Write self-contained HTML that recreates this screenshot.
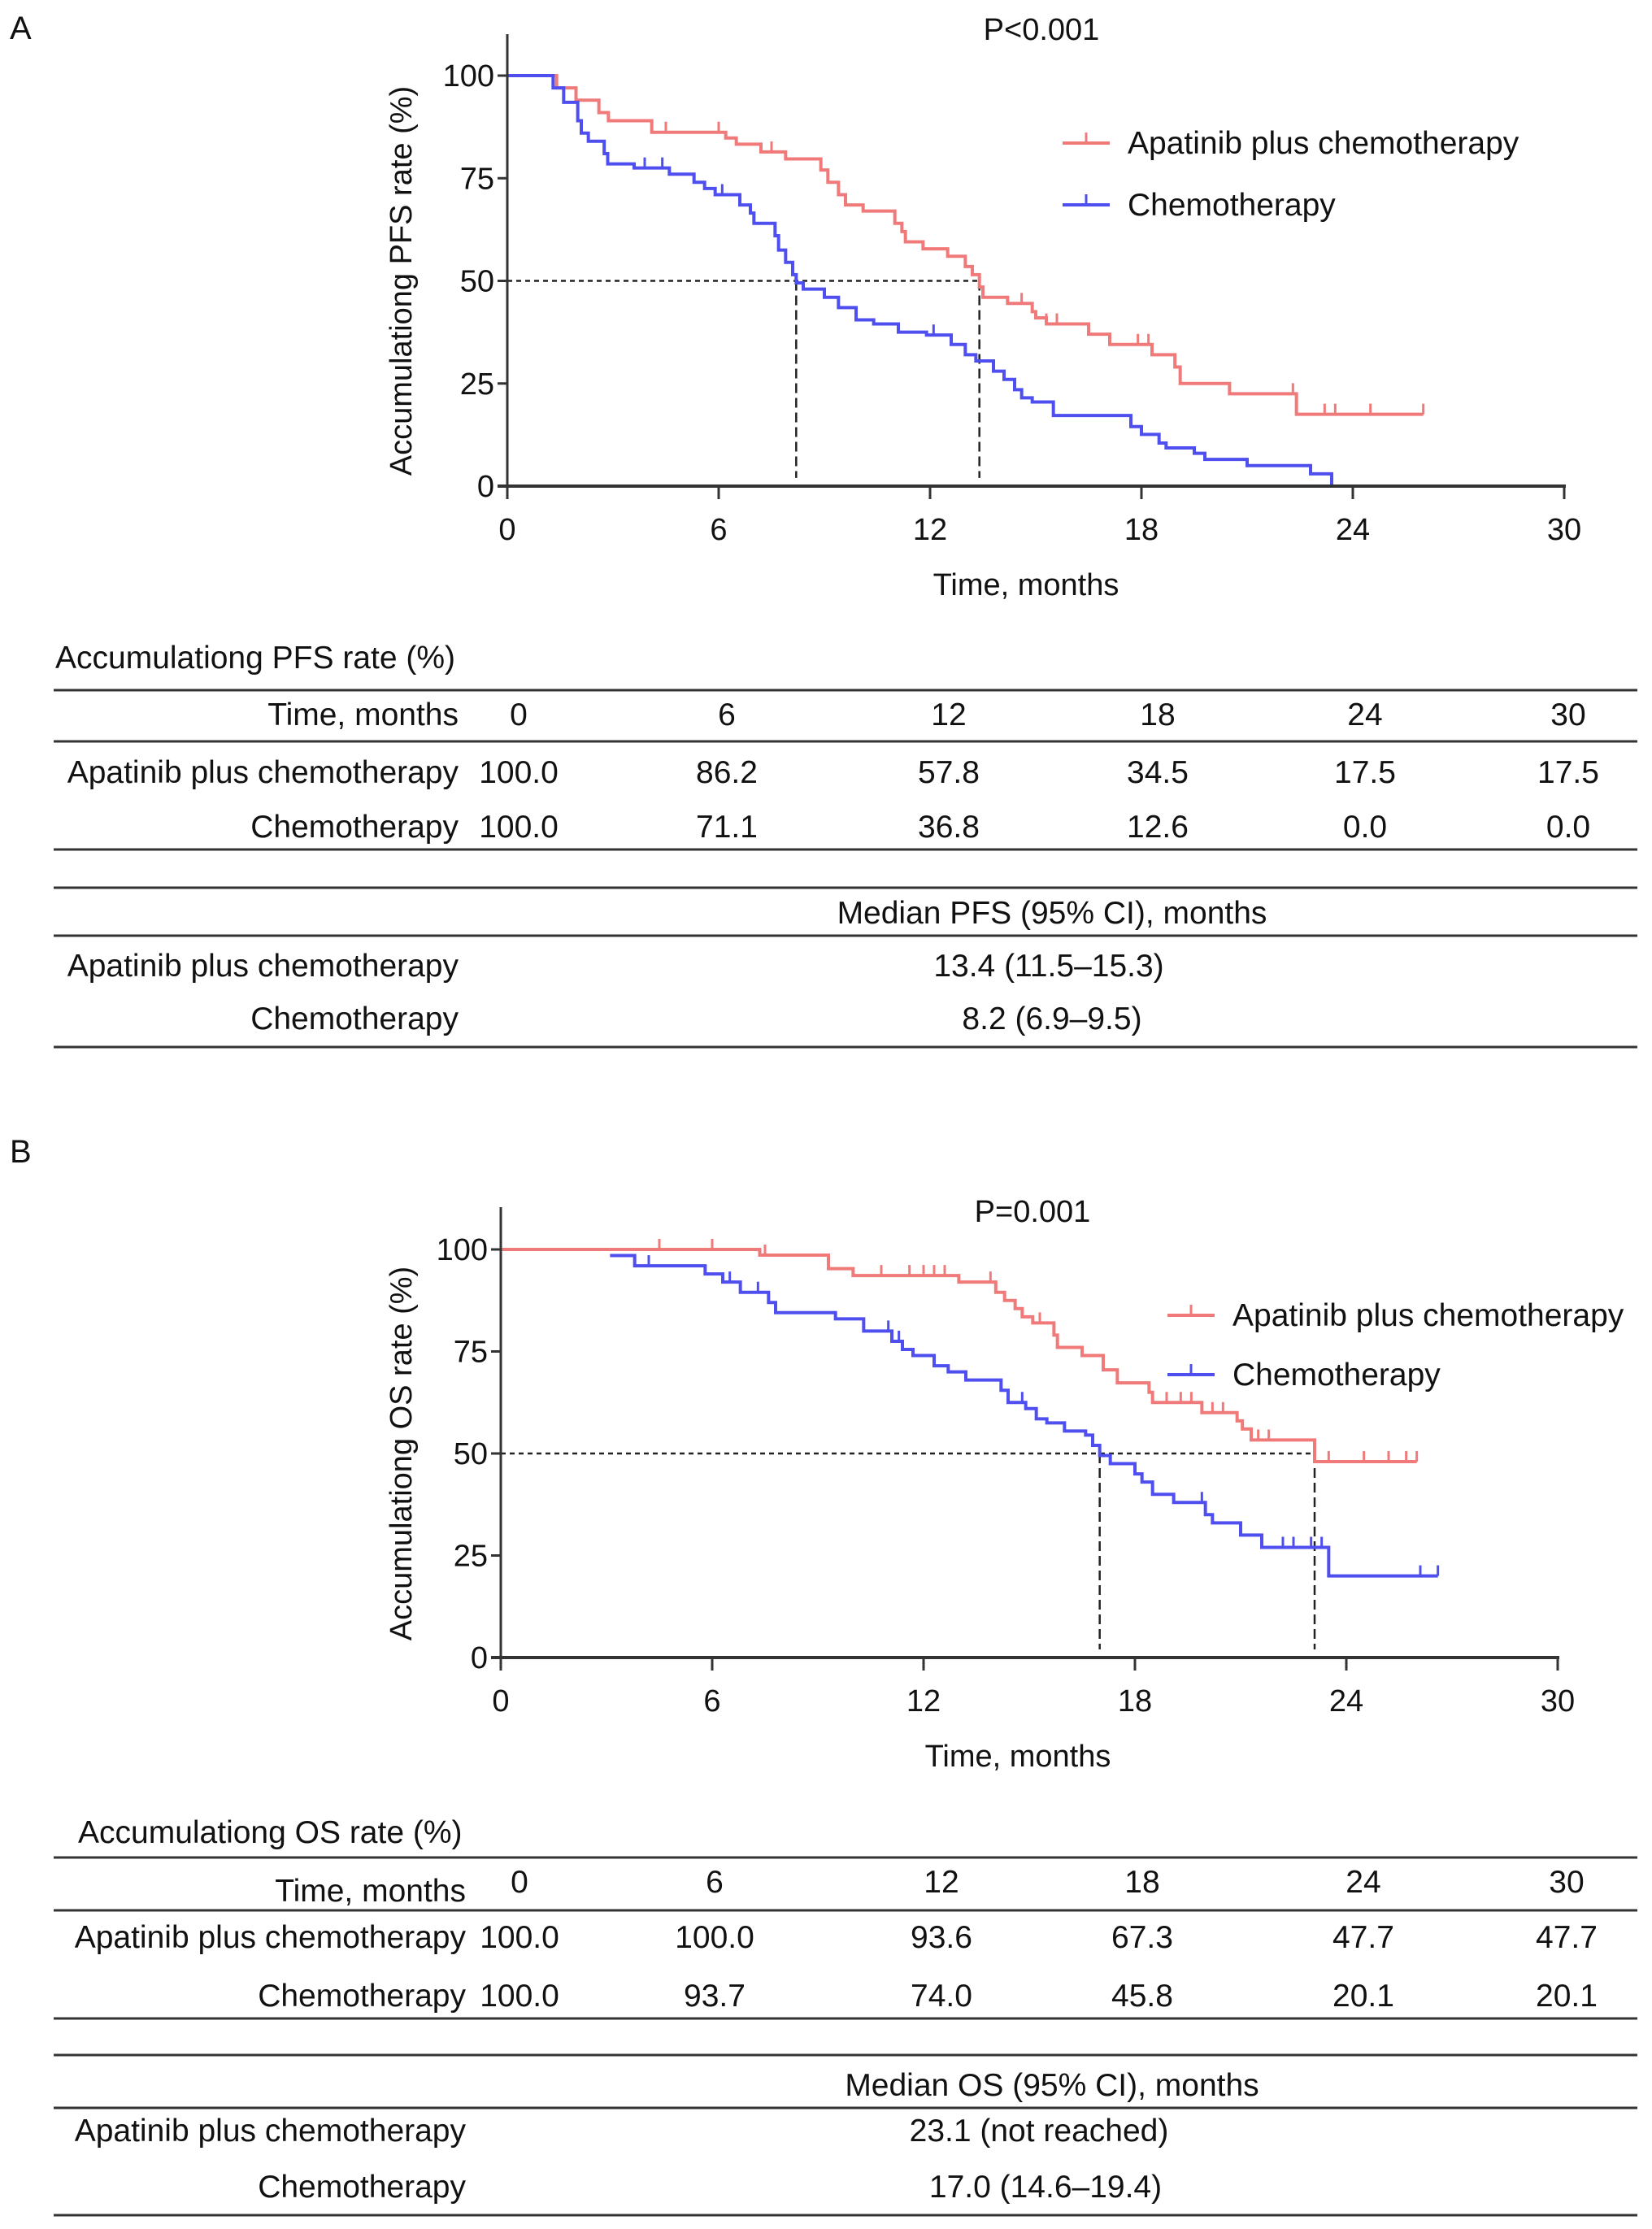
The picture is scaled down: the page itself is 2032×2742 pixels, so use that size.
<!DOCTYPE html>
<html><head><meta charset="utf-8"><style>
html,body{margin:0;padding:0;background:#fff;}
svg{display:block;}
text{font-family:"Liberation Sans",Arial,sans-serif;fill:#111;}
</style></head>
<body>
<svg id="fig" width="2032" height="2742" viewBox="0 0 2032 2742" xmlns="http://www.w3.org/2000/svg">
<text x="12" y="48" font-size="40">A</text>
<text x="12" y="1430" font-size="40">B</text>
<g id="chartA"></g>
<g id="chartB"></g>
<g id="tables"></g>
</svg>
<script>
// ---- PFS data ----
const pfsRedT = [0,1.4,1.95,2.6,2.87,4.1,6.2,6.5,7.2,7.9,8.9,9.1,9.4,9.6,10.1,11.0,11.2,11.3,11.8,12.5,13.0,13.2,13.4,13.5,14.2,14.9,15.0,15.3,16.5,17.1,18.3,18.95,19.1,20.5,22.4];
const pfsRedS = [100,97,94,91,89,86.2,84.8,83.3,81.4,79.7,77,74,71,68.5,67,64,62,59.5,57.8,56,53.5,51.5,48.5,46,44.5,42.5,41,39.5,37,34.5,32,29,25,22.5,17.5];
const pfsRedEnd = 26.0;
const pfsRedCens = [4.5,6.0,7.5,11.0,14.6,15.3,15.6,17.9,18.2,22.3,23.2,23.5,24.5,26.0];
const pfsBlueT = [0,1.3,1.6,2.0,2.1,2.3,2.75,2.85,3.6,4.6,5.3,5.6,5.9,6.6,6.9,7.0,7.6,7.7,7.9,8.1,8.2,8.4,9.0,9.4,9.9,10.4,11.1,11.9,12.6,13.0,13.3,13.8,14.1,14.4,14.6,14.9,15.5,17.7,18.0,18.5,18.7,19.5,19.8,21.0,22.8,23.4];
const pfsBlueS = [100,97,93.5,89,86,84,81,78.5,77.5,76,74,72.5,71,68.5,66.5,64,61,57.5,54.5,51.5,49.5,48,46,43.5,40.5,39.5,37.5,36.8,34.5,32,30.5,28,26,23.5,21.5,20.5,17.2,14.5,12.6,10.5,9.3,8,6.5,5,3,0];
const pfsBlueEnd = 23.4;
const pfsBlueCens = [3.9,4.4,6.1,12.1];
const pfsMedians = [8.2,13.4];
// ---- OS data ----
const osRedT = [0,7.35,9.3,10.0,13.0,14.05,14.3,14.6,14.8,15.1,15.7,15.8,16.5,17.1,17.5,18.4,18.5,19.9,20.9,21.05,21.3,23.1];
const osRedS = [100,98.6,95.3,93.6,92,89.5,87.5,85.5,83.5,82,79,76,74,70.5,67.3,65,62.5,60,58,56,53.3,48];
const osRedEnd = 26.0;
const osRedCens = [4.5,6.0,7.5,10.8,11.6,12.0,12.3,12.6,13.9,15.3,18.9,19.3,19.6,20.2,20.5,21.5,21.8,23.5,24.5,25.2,25.7,26.0];
const osBlueT = [3.1,3.8,5.8,6.3,6.8,7.6,7.8,9.5,10.3,11.1,11.4,11.7,12.3,12.7,13.2,14.2,14.4,14.9,15.2,15.5,16.0,16.6,16.8,17.0,17.3,18.0,18.2,18.5,19.1,20.0,20.2,21.0,21.6,23.5];
const osBlueS = [98.5,96,94,92,89.5,87,84.5,83,80,77.5,75.5,74,71.5,70,68,65.5,62.5,61,58.5,57.5,55.5,54.5,52,49.5,47.5,45,43,40,38,35,33,30,27,20];
const osBlueEnd = 26.6;
const osBlueCens = [4.2,6.5,7.3,11.0,11.3,14.8,19.9,22.2,22.5,23.0,23.3,26.1,26.6];
const osMedians = [17.0,23.1];
const xTicks = [0,6,12,18,24,30];
const yTicks = [0,25,50,75,100];

const NS="http://www.w3.org/2000/svg";
function mk(tag, parent, attrs){const e=document.createElementNS(NS,tag);for(const k in attrs)e.setAttribute(k,attrs[k]);parent.appendChild(e);return e;}
const RED="#f07a7a", BLUE="#4f4ff0";
const FS=38;

function chart(g, cfg){
  const X=v=>cfg.x0+(cfg.x1-cfg.x0)*v/30;
  const Y=v=>cfg.y0-(cfg.y0-cfg.y100)*v/100;
  const hd=mk('line',g,{x1:X(0),x2:X(cfg.med[1]),y1:Y(50),y2:Y(50),stroke:'#222','stroke-width':2.5,'stroke-dasharray':'6,5'});
  
  
  cfg.med.forEach(m=>{
    const l=mk('line',g,{x1:X(m),x2:X(m),y1:Y(50),y2:Y(2),stroke:'#222','stroke-width':2.5,'stroke-dasharray':'12,6'});
    
    
  });
  cfg.series.forEach(s=>{
    let d='M'+X(s.t[0])+' '+Y(s.s[0]);
    for(let i=1;i<s.t.length;i++){d+=' L'+X(s.t[i])+' '+Y(s.s[i-1])+' L'+X(s.t[i])+' '+Y(s.s[i]);}
    d+=' L'+X(s.end)+' '+Y(s.s[s.s.length-1]);
    const p=mk('path',g,{d:d,fill:'none',stroke:s.c,'stroke-width':4});
    
    
    s.cens.forEach(ct=>{
      let v=s.s[0];for(let i=0;i<s.t.length;i++){if(s.t[i]<=ct)v=s.s[i];}
      const c=mk('line',g,{x1:X(ct),x2:X(ct),y1:Y(v),y2:Y(v)-13,stroke:s.c,'stroke-width':3});
      
      
    });
  });
  const ya=mk('line',g,{x1:cfg.x0,x2:cfg.x0,y1:cfg.yTop,y2:cfg.y0+16,stroke:'#333','stroke-width':3});
  
  
  const xa=mk('line',g,{x1:cfg.x0-12,x2:cfg.x1+2,y1:cfg.y0,y2:cfg.y0,stroke:'#333','stroke-width':4});
  
  
  yTicks.forEach(v=>{
    mk('line',g,{x1:cfg.x0-12,x2:cfg.x0,y1:Y(v),y2:Y(v),stroke:'#333','stroke-width':3});
    const t=mk('text',g,{x:cfg.x0-16,y:Y(v)+13,'font-size':FS,'text-anchor':'end'});t.textContent=v;
    
    
  });
  xTicks.forEach(v=>{
    mk('line',g,{x1:X(v),x2:X(v),y1:cfg.y0,y2:cfg.y0+16,stroke:'#333','stroke-width':3});
    const t=mk('text',g,{x:X(v),y:cfg.y0+66,'font-size':FS,'text-anchor':'middle'});t.textContent=v;
    
    
  });
  const xt=mk('text',g,{x:cfg.xtX,y:cfg.y0+134,'font-size':FS,'text-anchor':'middle'});xt.textContent='Time, months';
  
  
  const yt=mk('text',g,{x:0,y:0,'font-size':FS,'text-anchor':'middle',transform:'translate(506,'+((cfg.y0+cfg.y100)/2)+') rotate(-90)'});yt.textContent=cfg.ytitle;
  
  
  const pt=mk('text',g,{x:cfg.pX,y:cfg.pY,'font-size':FS,'text-anchor':'middle'});pt.textContent=cfg.p;
  
  
  cfg.legend.forEach((L,i)=>{
    const ly=L.y;
    mk('line',g,{x1:L.x,x2:L.x+58,y1:ly,y2:ly,stroke:L.c,'stroke-width':4});
    mk('line',g,{x1:L.x+29,x2:L.x+29,y1:ly,y2:ly-13,stroke:L.c,'stroke-width':3});
    const t=mk('text',g,{x:L.x+80,y:ly+13,'font-size':39});t.textContent=L.label;
    
    
  });
}

chart(document.getElementById('chartA'),{x0:624,x1:1924,y0:598,y100:93,yTop:42,med:pfsMedians,
  ytitle:'Accumulationg PFS rate (%)',p:'P<0.001',pX:1281,pY:49,xtX:1262,
  legend:[{x:1307,y:176,c:RED,label:'Apatinib plus chemotherapy'},{x:1307,y:252,c:BLUE,label:'Chemotherapy'}],
  series:[{name:'apatinib',t:pfsRedT,s:pfsRedS,end:pfsRedEnd,cens:pfsRedCens,c:RED},
          {name:'chemotherapy',t:pfsBlueT,s:pfsBlueS,end:pfsBlueEnd,cens:pfsBlueCens,c:BLUE}]});
chart(document.getElementById('chartB'),{x0:616,x1:1916,y0:2039,y100:1537,yTop:1485,med:osMedians,
  ytitle:'Accumulationg OS rate (%)',p:'P=0.001',pX:1270,pY:1503,xtX:1252,
  legend:[{x:1436,y:1618,c:RED,label:'Apatinib plus chemotherapy'},{x:1436,y:1691,c:BLUE,label:'Chemotherapy'}],
  series:[{name:'apatinib',t:osRedT,s:osRedS,end:osRedEnd,cens:osRedCens,c:RED},
          {name:'chemotherapy',t:osBlueT,s:osBlueS,end:osBlueEnd,cens:osBlueCens,c:BLUE}]});

// ---- tables ----
const tg=document.getElementById('tables');
function txt(x,y,s,anchor,name){const t=mk('text',tg,{x:x,y:y+13,'font-size':39,'text-anchor':anchor});t.textContent=s;
  
  }
function hline(y){mk('line',tg,{x1:66,x2:2014,y1:y,y2:y,stroke:'#333','stroke-width':3});}
function table(o){
  txt(o.titleX,o.titleY,o.title,'start','table-title');
  o.lines.forEach(hline);
  txt(o.labR,o.hdrY,'Time, months','end','table-header');
  o.cols.forEach((c,i)=>{txt(c,o.hdrNumY,o.times[i],'middle','table-time');
    txt(c,o.r1Y,o.a[i],'middle','table-value');txt(c,o.r2Y,o.b[i],'middle','table-value');});
  txt(o.labR,o.r1Y,'Apatinib plus chemotherapy','end','row-label');
  txt(o.labR,o.r2Y,'Chemotherapy','end','row-label');
  txt(1294,o.mhY,o.mh,'middle','median-header');
  txt(o.labR,o.m1Y,'Apatinib plus chemotherapy','end','row-label');
  txt(o.labR,o.m2Y,'Chemotherapy','end','row-label');
  txt(o.m1X,o.m1Y,o.m1,'middle','median-value');
  txt(o.m2X,o.m2Y,o.m2,'middle','median-value');
}
table({title:'Accumulationg PFS rate (%)',titleX:68,titleY:809,lines:[849,912,1045,1092,1151,1288],
  labR:564,hdrY:879,hdrNumY:879,r1Y:950,r2Y:1017,cols:[638,894,1167,1424,1679,1929],
  times:['0','6','12','18','24','30'],a:['100.0','86.2','57.8','34.5','17.5','17.5'],b:['100.0','71.1','36.8','12.6','0.0','0.0'],
  mh:'Median PFS (95% CI), months',mhY:1123,m1Y:1188,m2Y:1253,m1:'13.4 (11.5–15.3)',m2:'8.2 (6.9–9.5)',m1X:1290,m2X:1294});
table({title:'Accumulationg OS rate (%)',titleX:96,titleY:2254,lines:[2285,2350,2483,2528,2593,2725],
  labR:573,hdrY:2326,hdrNumY:2315,r1Y:2383,r2Y:2455,cols:[639,879,1158,1405,1677,1927],
  times:['0','6','12','18','24','30'],a:['100.0','100.0','93.6','67.3','47.7','47.7'],b:['100.0','93.7','74.0','45.8','20.1','20.1'],
  mh:'Median OS (95% CI), months',mhY:2565,m1Y:2621,m2Y:2690,m1:'23.1 (not reached)',m2:'17.0 (14.6–19.4)',m1X:1278,m2X:1286});
</script>
</body></html>
